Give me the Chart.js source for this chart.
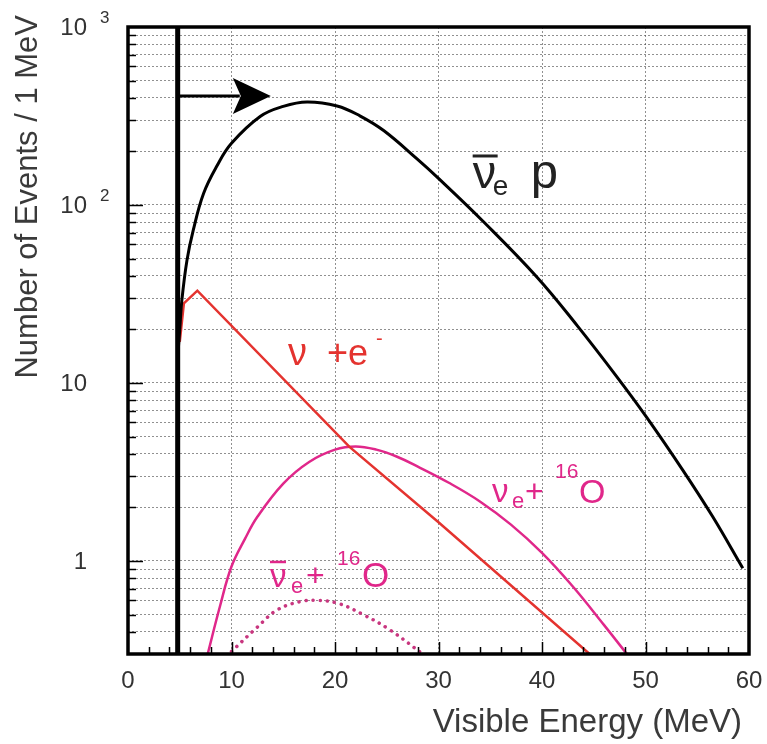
<!DOCTYPE html>
<html>
<head>
<meta charset="utf-8">
<script src="https://cdn.jsdelivr.net/npm/chart.js@4/dist/chart.umd.min.js"></script>
<style>
  body { margin: 0; background: #fff; }
  canvas { display: block; }
</style>
</head>
<body>
<canvas id="chart" width="767" height="744"></canvas>
<script>
// energies in MeV, events per 1 MeV
var nubarPEnergy = [4.8, 5.0, 5.2, 5.7, 6.3, 7.3, 8.6, 10.0, 12.8, 15.0, 17.3, 20.2, 22.4, 24.7, 27.9, 30.0, 34.3, 39.5, 43.4, 47.2, 50.1, 53.6, 56.5, 59.4];
var nubarPEvents = [14, 20, 29, 49, 72, 116, 166, 222, 315, 358, 379, 360, 317, 262, 182, 141, 81, 39.4, 21.0, 10.9, 6.43, 3.24, 1.77, 0.91];

var nuEEnergy = [5.0, 5.4, 6.7, 21.4, 30.0, 44.6];
var nuEEvents = [17, 28, 33, 4.37, 1.65, 0.3];

var nueOEnergy = [7.7, 8.9, 10.0, 11.3, 12.5, 15.0, 17.5, 20.0, 22.0, 24.0, 26.0, 28.0, 31.0, 34.0, 37.0, 40.0, 43.0, 46.0, 48.2];
var nueOEvents = [0.3, 0.56, 0.93, 1.33, 1.77, 2.72, 3.6, 4.22, 4.4, 4.22, 3.85, 3.39, 2.75, 2.16, 1.6, 1.11, 0.716, 0.436, 0.3];

var nuebarOEnergy = [10.0, 12.5, 14.4, 16.6, 18.2, 20.2, 22.7, 25.3, 28.8];
var nuebarOEvents = [0.31, 0.425, 0.53, 0.59, 0.60, 0.58, 0.50, 0.41, 0.29];

var thresholdEnergy = 4.8;
var arrowTipEnergy = 13.8;
var arrowLevel = 410;

var xMin = 0, xMax = 60;
var yMin = 0.3, yMax = 1000;
var xLabelStep = 10;
var xMinorStep = 2;
var yLabelValues = [1, 10, 100, 1000];
var yLabelBase = ["1", "10", "10", "10"];
var yLabelExp = ["", "", "2", "3"];

var FONT = "'Liberation Sans', Arial, sans-serif";
var RED = "#e4332f";
var MAGENTA = "#e0278a";
var MAGENTA_DOT = "#c8367f";

function points(xs, ys) {
    return xs.map(function(x, i) { return {x: x, y: ys[i]}; });
}

function txt(ctx, s, x, y, size, color, align, baseline) {
    ctx.font = size + "px " + FONT;
    ctx.fillStyle = color;
    ctx.textAlign = align || "left";
    ctx.textBaseline = baseline || "alphabetic";
    ctx.fillText(s, x, y);
}

function bar(ctx, x1, x2, y, w, color) {
    ctx.strokeStyle = color;
    ctx.lineWidth = w;
    ctx.beginPath();
    ctx.moveTo(x1, y);
    ctx.lineTo(x2, y);
    ctx.stroke();
}

var decor = {
    id: "decor",
    afterDatasetsDraw: function(chart) {
        var ctx = chart.ctx;
        var a = chart.chartArea;
        var xs = chart.scales.x, ys = chart.scales.y;
        ctx.save();

        // arrow head
        var tx = xs.getPixelForValue(arrowTipEnergy);
        var ty = ys.getPixelForValue(arrowLevel);
        ctx.fillStyle = "#000";
        ctx.beginPath();
        ctx.moveTo(tx, ty);
        ctx.lineTo(tx - 38, ty - 18);
        ctx.lineTo(tx - 30, ty);
        ctx.lineTo(tx - 38, ty + 18);
        ctx.closePath();
        ctx.fill();

        // tick marks, inside the frame
        ctx.strokeStyle = "#000";
        ctx.lineWidth = 1.5;
        ctx.beginPath();
        for (var e = xMin + xMinorStep; e < xMax; e += xMinorStep) {
            var px = Math.round(xs.getPixelForValue(e)) + 0.5;
            var len = (e % xLabelStep === 0) ? 12 : 7;
            ctx.moveTo(px, a.bottom);
            ctx.lineTo(px, a.bottom - len);
        }
        ys.ticks.forEach(function(t) {
            if (t.value <= yMin || t.value >= yMax) return;
            var py = Math.round(ys.getPixelForValue(t.value)) + 0.5;
            var len = yLabelValues.indexOf(t.value) >= 0 ? 15 : 8;
            ctx.moveTo(a.left, py);
            ctx.lineTo(a.left + len, py);
        });
        ctx.stroke();

        // frame
        ctx.lineWidth = 3.5;
        ctx.strokeRect(a.left, a.top, a.right - a.left, a.bottom - a.top);
        ctx.restore();
    },
    afterDraw: function(chart) {
        var ctx = chart.ctx;
        var a = chart.chartArea;
        var xs = chart.scales.x, ys = chart.scales.y;
        ctx.save();

        // y tick labels with exponents
        yLabelValues.forEach(function(v, i) {
            var py = ys.getPixelForValue(v);
            txt(ctx, yLabelBase[i], a.left - 41, py + 1, 24, "#333", "right", "middle");
            if (yLabelExp[i]) txt(ctx, yLabelExp[i], a.left - 28, py - 4, 17, "#333", "left", "alphabetic");
        });

        // axis titles
        txt(ctx, "Visible Energy (MeV)", a.right - 7, 732, 33, "#3a3a3a", "right", "alphabetic");
        ctx.save();
        ctx.translate(37, 15);
        ctx.rotate(-Math.PI / 2);
        txt(ctx, "Number of Events / 1 MeV", 0, 0, 31, "#3a3a3a", "right", "alphabetic");
        ctx.restore();

        // curve labels
        var x0, y0;
        // anti-nu_e p
        x0 = xs.getPixelForValue(33.3); y0 = ys.getPixelForValue(124.6);
        txt(ctx, "ν", x0, y0, 47, "#222");
        bar(ctx, x0, x0 + 25, y0 - 32, 3, "#222");
        txt(ctx, "e", x0 + 20, y0 + 7, 28, "#222");
        txt(ctx, "p", x0 + 58, y0, 49, "#222");

        // nu + e-
        x0 = xs.getPixelForValue(15.46); y0 = ys.getPixelForValue(12.6);
        txt(ctx, "ν", x0, y0, 38, RED);
        txt(ctx, "+e", x0 + 39, y0, 36, RED);
        txt(ctx, "-", x0 + 88, y0 - 20, 20, RED);

        // nu_e + 16O
        x0 = xs.getPixelForValue(35.17); y0 = ys.getPixelForValue(2.14);
        txt(ctx, "ν", x0, y0, 33, MAGENTA);
        txt(ctx, "e", x0 + 20, y0 + 6, 22, MAGENTA);
        txt(ctx, "+", x0 + 33, y0, 32, MAGENTA);
        txt(ctx, "16", x0 + 63, y0 - 24, 21, MAGENTA);
        txt(ctx, "O", x0 + 87, y0 + 1, 34, MAGENTA);

        // anti-nu_e + 16O
        x0 = xs.getPixelForValue(13.72); y0 = ys.getPixelForValue(0.714);
        txt(ctx, "ν", x0, y0, 33, MAGENTA);
        bar(ctx, x0, x0 + 16, y0 - 25, 2.5, MAGENTA);
        txt(ctx, "e", x0 + 21, y0 + 6, 22, MAGENTA);
        txt(ctx, "+", x0 + 36, y0 - 1, 32, MAGENTA);
        txt(ctx, "16", x0 + 67, y0 - 22, 21, MAGENTA);
        txt(ctx, "O", x0 + 92, y0, 35, MAGENTA);

        ctx.restore();
    }
};

var gridColor = "rgba(70,70,70,0.6)";

new Chart(document.getElementById("chart"), {
    type: "line",
    data: {
        datasets: [
            {
                label: "threshold",
                data: points([thresholdEnergy, thresholdEnergy], [yMin, yMax]),
                borderColor: "#000",
                borderWidth: 5,
                pointRadius: 0
            },
            {
                label: "arrow",
                data: points([thresholdEnergy, arrowTipEnergy - 3], [arrowLevel, arrowLevel]),
                borderColor: "#000",
                borderWidth: 3,
                pointRadius: 0
            },
            {
                label: "anti-nu_e p",
                data: points(nubarPEnergy, nubarPEvents),
                borderColor: "#000",
                borderWidth: 3,
                pointRadius: 0,
                tension: 0.4
            },
            {
                label: "nu + e-",
                data: points(nuEEnergy, nuEEvents),
                borderColor: RED,
                borderWidth: 2.5,
                pointRadius: 0,
                tension: 0
            },
            {
                label: "nu_e + 16O",
                data: points(nueOEnergy, nueOEvents),
                borderColor: MAGENTA,
                borderWidth: 2.5,
                pointRadius: 0,
                tension: 0.4
            },
            {
                label: "anti-nu_e + 16O",
                data: points(nuebarOEnergy, nuebarOEvents),
                borderColor: MAGENTA_DOT,
                borderWidth: 3.5,
                borderDash: [0.1, 7],
                borderCapStyle: "round",
                pointRadius: 0,
                tension: 0.4
            }
        ]
    },
    options: {
        responsive: false,
        animation: false,
        events: [],
        layout: {
            padding: {left: 128, top: 27, right: 18, bottom: 0}
        },
        plugins: {
            legend: {display: false},
            tooltip: {enabled: false}
        },
        scales: {
            x: {
                type: "linear",
                min: xMin,
                max: xMax,
                ticks: {
                    stepSize: xLabelStep,
                    color: "#333",
                    font: {family: FONT, size: 24},
                    padding: 13,
                    maxRotation: 0
                },
                grid: {color: gridColor, lineWidth: 1, drawTicks: false},
                border: {display: false, dash: [2, 2]},
                afterFit: function(scale) {
                    scale.height = 90;
                    scale.paddingLeft = 0;
                    scale.paddingRight = 0;
                }
            },
            y: {
                type: "logarithmic",
                min: yMin,
                max: yMax,
                ticks: {display: false},
                grid: {color: gridColor, lineWidth: 1, drawTicks: false},
                border: {display: false, dash: [2, 2]},
                afterBuildTicks: function(scale) {
                    var vals = [];
                    [0.1, 1, 10, 100].forEach(function(dec) {
                        for (var m = 1; m <= 9; m++) {
                            var v = +(m * dec).toPrecision(3);
                            if (v >= yMin && v <= yMax) vals.push(v);
                        }
                    });
                    vals.push(yMax);
                    scale.ticks = vals.map(function(v) { return {value: v}; });
                },
                afterFit: function(scale) {
                    scale.width = 0;
                    scale.paddingTop = 0;
                    scale.paddingBottom = 0;
                }
            }
        }
    },
    plugins: [decor]
});
</script>
</body>
</html>
